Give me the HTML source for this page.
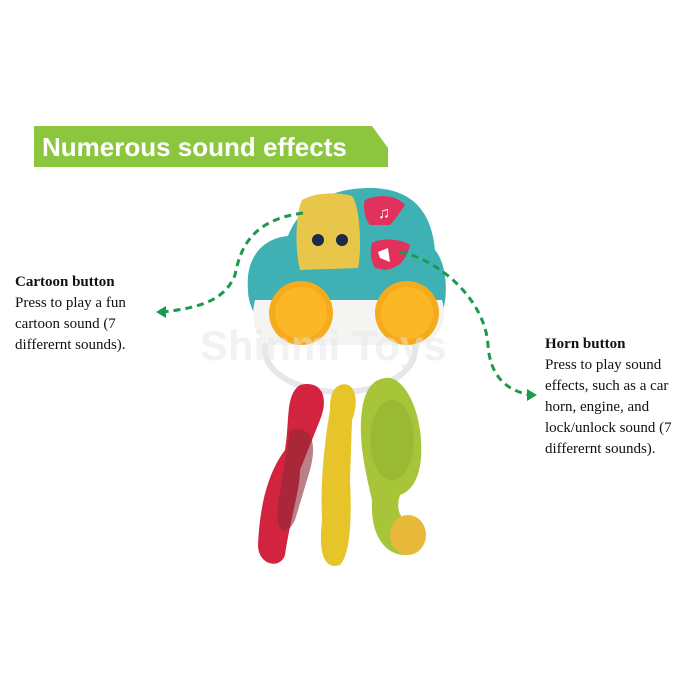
<!DOCTYPE html>
<html><head><style>
body{margin:0;background:#fff;width:700px;height:700px;overflow:hidden;position:relative;font-family:"Liberation Serif",serif}
.t{position:absolute;font-size:15px;line-height:21px;color:#111}
.t b{font-size:15px}
</style></head><body>
<svg width="700" height="700" style="position:absolute;left:0;top:0">
<polygon points="34,126 372,126 388,148 388,167 34,167" fill="#8cc63f"/>
<text x="42" y="156" font-family="Liberation Sans,sans-serif" font-weight="bold" font-size="26" fill="#fff">Numerous sound effects</text>
<!-- ring -->
<ellipse cx="340" cy="350" rx="75" ry="42" fill="none" stroke="#e4e8ea" stroke-width="6"/>
<!-- keys -->
<path d="M300,385 C320,380 330,395 320,420 L300,470 C300,490 290,520 285,555 C280,570 258,565 258,545 C260,500 270,470 285,450 C290,420 285,395 300,385Z" fill="#d3243f"/>
<path d="M290,430 C310,425 318,440 310,470 L295,520 C285,540 275,530 278,505Z" fill="#8e2a35" opacity="0.6"/>
<path d="M340,385 C355,380 360,400 352,420 L350,480 C352,520 350,555 340,565 C325,570 318,555 322,520 C320,480 325,440 330,410 C330,395 333,388 340,385Z" fill="#e7c52a"/>
<path d="M385,378 C398,375 415,395 420,430 C425,470 415,490 400,495 C395,510 400,525 420,520 C430,530 425,555 405,555 C385,555 370,535 372,500 C365,470 358,440 362,410 C365,390 372,380 385,378Z" fill="#a8c53a"/>
<ellipse cx="392" cy="440" rx="22" ry="40" fill="#9bba34"/>
<ellipse cx="408" cy="535" rx="18" ry="20" fill="#e8b83a"/>
<!-- car -->
<path d="M248,290 C245,255 265,238 288,236 C300,205 330,188 370,188 C415,188 432,215 435,250 C448,265 448,300 442,312 L255,315 C250,305 248,298 248,290Z" fill="#3fb0b3"/>
<path d="M255,300 L442,300 C448,320 440,340 420,345 L270,345 C255,340 250,320 255,300Z" fill="#f4f4f2"/>
<path d="M302,200 C315,192 340,192 352,196 C360,205 362,250 358,268 L300,270 C295,250 295,215 302,200Z" fill="#e7c64a"/>
<circle cx="318" cy="240" r="6" fill="#1d2a4a"/><circle cx="342" cy="240" r="6" fill="#1d2a4a"/>
<path d="M365,200 C375,195 395,193 405,205 C400,212 395,220 390,225 L370,225 C364,218 363,205 365,200Z" fill="#e2315a"/>
<path d="M372,243 C380,238 400,238 410,245 C407,258 400,268 385,270 L375,268 C370,260 370,250 372,243Z" fill="#e2315a"/>
<text x="378" y="218" font-size="16" fill="#fff">♫</text>
<path d="M378,252 L388,248 L390,262 L380,258Z" fill="#fff"/>
<circle cx="301" cy="313" r="32" fill="#f6ab1c"/><circle cx="407" cy="313" r="32" fill="#f6ab1c"/>
<circle cx="301" cy="313" r="26" fill="#fbb726"/><circle cx="407" cy="313" r="26" fill="#fbb726"/>
<text x="200" y="360" font-family="Liberation Sans,sans-serif" font-weight="bold" font-size="42" fill="#e6e6e6" fill-opacity="0.5">Shinmi Toys</text>
<!-- connectors -->
<path d="M303,213 C250,220 240,250 235,275 C225,300 200,308 162,312" fill="none" stroke="#1a9a4a" stroke-width="3" stroke-dasharray="7,5"/>
<polygon points="156,312 166,306 166,318" fill="#1a9a4a"/>
<path d="M400,252 C440,260 485,300 488,345 C490,375 505,390 530,395" fill="none" stroke="#1a9a4a" stroke-width="3" stroke-dasharray="7,5"/>
<polygon points="537,395 527,389 527,401" fill="#1a9a4a"/>
</svg>
<div class="t" style="left:15px;top:272px;width:140px"><b>Cartoon button</b><br>Press to play a fun cartoon sound (7 differernt sounds).</div>
<div class="t" style="left:545px;top:334px;width:150px"><b>Horn button</b><br>Press to play sound effects, such as a car horn, engine, and lock/unlock sound (7 differernt sounds).</div>
</body></html>
